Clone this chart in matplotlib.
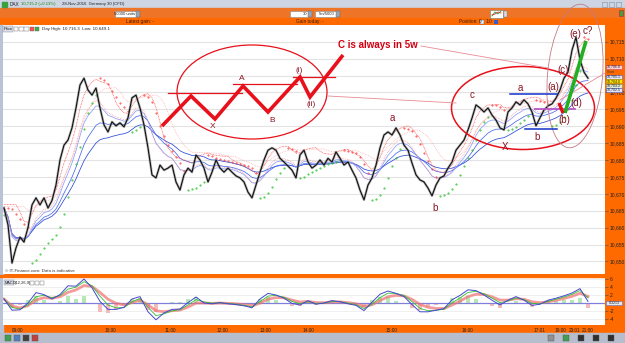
import numpy as np
import pandas as pd
import matplotlib
matplotlib.use("Agg")
import matplotlib.pyplot as plt
from matplotlib.patches import Ellipse, Rectangle

plt.rcParams['font.family'] = ['Liberation Sans', 'DejaVu Sans']

# ---------------- data ----------------
close = [
    10665.8, 10660.8, 10649.5, 10654.0, 10657.2, 10655.7, 10660.0, 10666.7, 10668.8, 10666.7,
    10668.8, 10665.8, 10668.0, 10672.6, 10680.0, 10684.4, 10685.9, 10689.5, 10695.4, 10702.2,
    10704.2, 10700.7, 10699.2, 10701.3, 10695.4, 10690.4, 10688.3, 10691.3, 10690.1, 10691.0,
    10689.8, 10692.5, 10698.4, 10699.2, 10695.4, 10690.4, 10683.6, 10675.6, 10674.7, 10678.5,
    10677.0, 10677.6, 10678.5, 10673.5, 10671.1, 10675.6, 10677.6, 10676.4, 10681.5, 10680.0,
    10677.6, 10673.5, 10676.4, 10680.0, 10677.6, 10676.4, 10677.6, 10676.4, 10675.3, 10674.7,
    10673.5, 10670.5, 10668.8, 10672.6, 10676.4, 10680.0, 10682.9, 10683.6, 10682.9, 10680.5,
    10679.4, 10678.2, 10677.0, 10674.7, 10681.5, 10682.9, 10679.4, 10677.6, 10678.5, 10680.0,
    10678.5, 10680.5, 10679.4, 10682.4, 10680.5, 10678.5, 10679.4, 10677.0, 10674.7, 10671.1,
    10668.2, 10672.6, 10674.7, 10678.5, 10683.6, 10687.4, 10688.3, 10687.4, 10689.5, 10687.4,
    10684.4, 10682.9, 10679.1, 10675.6, 10674.1, 10673.5, 10671.7, 10669.4, 10672.6, 10674.7,
    10675.3, 10677.6, 10679.4, 10682.9, 10684.4, 10685.9, 10688.9, 10692.4, 10696.3, 10695.4,
    10694.2, 10695.4, 10693.3, 10691.8, 10689.5, 10688.9, 10694.2, 10695.4, 10697.2, 10696.3,
    10697.8, 10696.6, 10694.2, 10690.1, 10692.5, 10694.8, 10696.0, 10696.6, 10698.3, 10700.7,
    10704.2, 10706.0, 10712.5, 10716.3, 10709.6, 10706.0, 10704.2,
]

macd_vals = [
    1.0, -1.8, -1.7, 0.0, 2.6, 2.1, 1.0, 2.1, 4.3, 4.2,
    6.0, 3.8, 0.4, -1.6, -1.6, -1.1, 1.0, 1.6, -2.2, -4.2,
    -2.5, -1.6, -1.5, 0.1, 1.5, 0.0, -0.2, 0.1, -0.2, -0.4,
    -0.7, -1.2, 1.0, 2.4, 2.0, 1.2, -0.1, -0.5, 0.6, -0.3,
    0.0, 0.6, 0.3, -0.2, -0.6, -1.9, 0.2, 2.2, 3.0, 2.4,
    1.6, -0.4, -2.2, -2.2, -1.8, -1.4, 0.8, 1.9, 3.3, 3.1,
    2.0, 0.7, -0.5, 0.7, 1.6, 0.7, -0.6, -0.3, 0.7, 1.2,
    1.8, 2.5, 3.6, 0.4,
]

time_labels = ["09:00", "10:00", "11:00", "12:00", "13:00", "14:00", "15:00",
               "16:00", "17:01", "19:00", "20:01", "21:00"]
time_pos = [3.5, 26.5, 41.5, 54.5, 65.25, 76, 97, 115.75, 134, 139, 142.75, 146]

price_ticks = list(range(10650, 10716, 5))
hidden_price_labels = [10705]          # covered by the indicator tags on the right
macd_ticks = [-4, -2, 2, 4, 6]

# hand-drawn schematic (pixel coordinates of the drawing on the screenshot)
schem_x = [162, 191, 215, 243, 268, 300, 310, 343]
schem_y = [126, 96, 119, 86, 112, 77, 97, 55]

# ---------------- figure ----------------
W, H = 625, 343
fig = plt.figure(figsize=(6.25, 3.43), dpi=100)


def rect(x0, y0, x1, y1):
    return [x0 / W, 1 - y1 / H, (x1 - x0) / W, (y1 - y0) / H]


def price_at(y):
    return 10715 - (y - 41.7) * 5 / 16.9


bg = fig.add_axes([0, 0, 1, 1], zorder=0)
bg.set_xlim(0, W); bg.set_ylim(H, 0); bg.axis('off')

# window chrome
bg.add_patch(Rectangle((0, 0), W, 8, color='#cdd5e3'))
bg.add_patch(Rectangle((0, 8), W, 10, color='#ee7428'))
bg.add_patch(Rectangle((0, 18), W, 7, color='#ff6a00'))
bg.add_patch(Rectangle((0, 25), W, 308, color='#ff6a00'))
bg.add_patch(Rectangle((0, 25), 3, 308, color='#b9c3d6'))
bg.add_patch(Rectangle((0, 333), W, 10, color='#b6bdcc'))

fs = 3.4
bg.add_patch(Rectangle((2, 1.5), 5, 5, color='#3aa040'))
bg.text(10, 4.3, "DAX", fontsize=fs, va='center', color='#222')
bg.text(21, 4.3, "10,715.2 (+0.13%)", fontsize=3.1, va='center', color='#118811')
bg.text(62, 4.3, "28-Nov-2016  Germany 30 (CFD)", fontsize=3.1, va='center', color='#222')
for bx in (604, 611, 618):
    bg.add_patch(Rectangle((bx - 2.5, 1.5), 5, 5, fill=False, ec='#8090a8', lw=0.4))

# toolbar inputs
for (x0, x1, t) in [(115, 136, "50000 units"), (290, 308, "30"), (315, 336, "5m/5000")]:
    bg.add_patch(Rectangle((x0, 10.5), x1 - x0, 6.5, fc='white', ec='#888', lw=0.4))
    bg.add_patch(Rectangle((x1, 10.5), 4, 6.5, fc='#9aa4b4', ec='#666', lw=0.3))
    bg.text(x1 - 1, 13.9, t, fontsize=3.0, ha='right', va='center', color='#222')
bg.add_patch(Rectangle((490, 9.5), 13, 8, fc='white', ec='#777', lw=0.4))
bg.plot([492, 495, 498, 501], [16, 12, 14, 11], color='#30a030', lw=0.6)
bg.plot([492, 495, 498, 501], [15, 14, 12, 13], color='#d03030', lw=0.6)
bg.add_patch(Rectangle((504, 10.5), 3, 6, fc='#dde', ec='#777', lw=0.3))
bg.add_patch(Rectangle((619, 10), 4, 6, fc='#40a040', ec='#c03030', lw=0.5))

bg.text(140, 21.7, "Latest gain: -", fontsize=fs, ha='center', va='center', color='#3a1a00')
bg.text(310, 21.7, "Gain today: -", fontsize=fs, ha='center', va='center', color='#3a1a00')
bg.text(470, 21.7, "Position: 0", fontsize=fs, ha='center', va='center', color='#3a1a00')
bg.add_patch(Rectangle((480, 19.5), 4, 4, fc='#e8eef8', ec='#557', lw=0.3))
bg.text(486, 21.7, "1:0", fontsize=fs, va='center', color='#3a1a00')
bg.add_patch(Rectangle((494, 19.5), 4, 4, fc='#3060d0', lw=0))

# bottom toolbar icons
for i, c in enumerate(['#40a050', '#5080c0', '#404040', '#c04040']):
    bg.add_patch(Rectangle((5 + i * 9, 335), 6, 6, fc=c, ec='#555', lw=0.3))
for i, c in enumerate(['#909090', '#40a050', '#303030', '#303030', '#303030']):
    bg.add_patch(Rectangle((548 + i * 15, 335), 6, 6, fc=c, ec='#555', lw=0.3))

# ---------------- main price axes ----------------
ax = fig.add_axes(rect(3, 25, 605, 274), zorder=2)
ax.set_facecolor('white')
idx = np.arange(len(close))
cs = pd.Series(close)
ax.set_xlim(-0.25, 150.25)
ax.set_ylim(price_at(274), price_at(25))
for s in ax.spines.values():
    s.set_visible(False)
ax.set_xticks([])
ax.set_yticks(price_ticks)
ax.set_yticklabels(["" if v in hidden_price_labels else f"{v:,}" for v in price_ticks])
ax.yaxis.tick_right()
ax.tick_params(axis='y', labelsize=3.6, length=2, width=0.4, color='#444',
               labelcolor='#222', pad=1.5)
for v in price_ticks:
    ax.axhline(v, color='#e3e3e3', lw=0.8, zorder=0)

# moving averages
for span, col in [(24, '#2a48d8'), (14, '#4a6af0'), (8, '#8aa0ff')]:
    ax.plot(idx, cs.ewm(span=span).mean(), color=col, lw=0.55, zorder=2)
red1 = cs.rolling(4, min_periods=1).max().ewm(span=4).mean() + 1.0
red2 = cs.ewm(span=7).mean() + 0.5
red3 = cs.rolling(6, min_periods=1).max().ewm(span=8).mean() + 0.5
ax.plot(idx, red1, color='#ff4848', lw=0.55, ls=(0, (1, 1)), zorder=2)
ax.plot(idx, red2, color='#ff7878', lw=0.5, ls=(0, (1, 1.5)), zorder=2)
ax.plot(idx, red3, color='#ff9a9a', lw=0.5, ls=(0, (1, 1.5)), zorder=2)


def psar(c, step=0.05, amax=0.3):
    c = np.asarray(c)
    out = np.empty(len(c)); up = np.empty(len(c), bool)
    u = True; af = step; ep = c[0]; sar = c[0] - 2
    out[0] = sar; up[0] = u
    for i in range(1, len(c)):
        sar = sar + af * (ep - sar)
        if u:
            if c[i] < sar:
                u = False; sar = ep; ep = c[i]; af = step
            elif c[i] > ep:
                ep = c[i]; af = min(af + step, amax)
        else:
            if c[i] > sar:
                u = True; sar = ep; ep = c[i]; af = step
            elif c[i] < ep:
                ep = c[i]; af = min(af + step, amax)
        out[i] = sar; up[i] = u
    return out, up


sar, up = psar(close)
ax.plot(idx[up], sar[up], ls='none', marker='.', ms=0.9, color='#22c022', zorder=3)
ax.plot(idx[~up], sar[~up], ls='none', marker='.', ms=0.9, color='#ff3a3a', zorder=3)

# price
ax.plot(idx, close, color='#8c8c8c', lw=1.8, alpha=0.6, zorder=4)
ax.plot(idx, close, color='#101010', lw=0.8, zorder=5)

# ---------------- MACD axes ----------------
axm = fig.add_axes(rect(3, 277, 605, 325), zorder=2)
axm.set_facecolor('white')
for s in axm.spines.values():
    s.set_visible(False)
midx = np.arange(0, 2 * len(macd_vals), 2)
ms = pd.Series(macd_vals)
sig = ms.ewm(span=4).mean()
fast = ms.ewm(span=2).mean()
hist = ms - sig
axm.set_xlim(-0.25, 150.25)
axm.set_ylim(-5.5, 6.5)
for v in macd_ticks:
    axm.axhline(v, color='#ececec', lw=0.6, zorder=0)
axm.bar(midx, hist, width=1.2, color=np.where(hist >= 0, '#a8e4a8', '#f4b0b0'),
        alpha=0.85, zorder=1)
axm.axhline(0, color='#8080dc', lw=0.9, zorder=2)
axm.plot(midx, sig, color='#f07070', lw=2.0, alpha=0.7, zorder=3)
axm.plot(midx, fast, color='#30c030', lw=0.6, zorder=4)
axm.plot(midx, ms, color='#4646d0', lw=0.7, zorder=5)
axm.set_yticks(macd_ticks)
axm.set_yticklabels([str(v) for v in macd_ticks])
axm.yaxis.tick_right()
axm.tick_params(axis='y', labelsize=3.6, length=2, width=0.4, color='#444',
                labelcolor='#222', pad=1.5)
axm.set_xticks(time_pos)
axm.set_xticklabels(time_labels)
axm.tick_params(axis='x', labelsize=3.4, length=0, labelcolor='#222', pad=2.2)

# ---------------- overlay annotations ----------------
ov = fig.add_axes([0, 0, 1, 1], zorder=5)
ov.set_xlim(0, W); ov.set_ylim(H, 0); ov.axis('off'); ov.patch.set_alpha(0)

# separator and texts
ov.add_patch(Rectangle((0, 274.5), 605, 2.2, color='#ff6a00'))
ov.text(5, 271, "© IT-Finance.com: Data is indicative", fontsize=3.2, va='center', color='#333')
ov.add_patch(Rectangle((4, 280), 10, 5, fc='#d8dde8', ec='#889', lw=0.3))
ov.text(4.5, 282.6, "MACD", fontsize=2.8, va='center', color='#222')
ov.text(15, 282.6, "(12,26,9)", fontsize=3.0, va='center', color='#222')
for i in range(3):
    ov.add_patch(Rectangle((30 + i * 5, 280.5), 4, 4, fc='white', ec='#666', lw=0.3))

ov.add_patch(Rectangle((3, 26), 10, 6, fc='#d8dde8', ec='#889', lw=0.3))
ov.text(4, 29, "Price", fontsize=3.0, va='center', color='#222')
for i, c in enumerate(['#ffffff', '#ffffff', '#ffffff', '#ff5050', '#40b040']):
    ov.add_patch(Rectangle((14 + i * 5.2, 26.5), 4.3, 4.5, fc=c, ec='#666', lw=0.3))
ov.text(42, 29, "Day High: 10,716.3  Low: 10,649.1", fontsize=3.2, va='center', color='#222')

# right side price tags
for (yy, fc, ec, t) in [(66.7, '#f8d0d6', '#d04050', '10,706.8'),
                        (76.8, '#dfe6fb', '#4060d0', '10,705.1'),
                        (81.2, '#ffe200', '#b09000', '10,704.0'),
                        (85.6, '#dce8d8', '#70a070', '10,703.2'),
                        (89.8, '#dfe6fb', '#4060d0', '10,702.5')]:
    ov.add_patch(Rectangle((606, yy - 2.1), 16, 4.2, fc=fc, ec=ec, lw=0.4))
    ov.text(614, yy, t, fontsize=2.5, ha='center', va='center', color='#222')
ov.text(607, 71.8, "Chart", fontsize=2.4, va='center', color='#333')
ov.add_patch(Rectangle((606, 300.8), 16, 4.4, fc='#e4e8f0', ec='#6070c0', lw=0.4))
ov.text(614, 303, "0.3213", fontsize=2.6, ha='center', va='center', color='#222')

red = '#e8101a'
maroon = '#8a1422'
# left schematic
ov.add_patch(Ellipse((252, 92), 150, 94, fill=False, ec=red, lw=0.9))
ov.plot(schem_x, schem_y, color=red, lw=2.6, solid_joinstyle='miter', solid_capstyle='butt')
ov.plot([168, 242], [93.3, 93.3], color=red, lw=0.9)
ov.plot([233, 297], [84.3, 84.3], color=red, lw=0.9)
ov.plot([293, 335], [76.7, 76.7], color=red, lw=0.9)
for (xx, yy, t) in [(213, 126, 'X'), (242, 78, 'A'), (272, 120, 'B'), (299, 71, '(i)'),
                    (311, 105, '(ii)')]:
    ov.text(xx, yy, t, fontsize=6, ha='center', va='center', color=maroon)
ov.text(378, 45.5, "C is always in 5w", fontsize=7, fontweight='bold', ha='center',
        va='center', color='#d40010')

# thin trend lines
ov.plot([421, 548], [46, 68], color='#e88a94', lw=0.6)
ov.plot([328, 456], [96, 103], color='#e88a94', lw=0.6)
ov.plot([560, 605], [100, 73], color='#e88a94', lw=0.6)

# right structure
ov.add_patch(Ellipse((523, 108), 143, 83, fill=False, ec=red, lw=1.1))
ov.add_patch(Ellipse((575, 76), 55, 144, angle=5, fill=False, ec='#c27a84', lw=0.6))
ov.plot([510, 557], [94, 94], color='#1232cc', lw=1.1)
ov.plot([525, 557], [129, 129], color='#1232cc', lw=1.1)
ov.plot([535, 575], [109, 109], color='#b856c8', lw=1.3)
ov.plot([565, 586], [113, 41], color='#22b022', lw=2.6, solid_capstyle='butt')
ov.plot([559, 563], [103, 113], color='#e01010', lw=2.4, solid_capstyle='butt')

for (xx, yy, t) in [(392, 118, 'a'), (435, 208, 'b'), (472, 95, 'c'), (505, 147, 'X'),
                    (520, 88, 'a'), (537, 137, 'b'), (553, 87, '(a)'), (563, 70, '(c)'),
                    (575, 34, '(e)'), (588, 31, 'c?'), (576, 103, '(d)'), (564, 120, '(b)')]:
    ov.text(xx, yy, t, fontsize=7, ha='center', va='center', color=maroon)

fig.savefig("out.png", dpi=100)
